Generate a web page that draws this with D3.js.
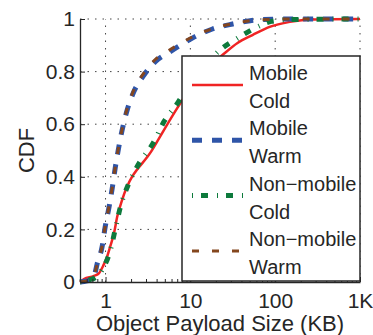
<!DOCTYPE html>
<html>
<head>
<meta charset="utf-8">
<script src="https://cdn.jsdelivr.net/npm/d3@7"></script>
<style>
  html, body { margin: 0; padding: 0; background: #fff; }
  svg { display: block; font-family: "Liberation Sans", Arial, sans-serif; }
</style>
</head>
<body>
<div id="chart"></div>
<script>
// CDF of object payload size (KB)
const mobileColdKB  = [0.5, 0.557, 0.732, 0.839, 0.936, 1.04, 1.13, 1.26, 1.37, 1.57, 3.55, 7.03, 9.75, 14.7, 23.9, 36, 54, 86, 149, 278, 1000];
const mobileColdCDF = [0, 0.011, 0.023, 0.034, 0.061, 0.095, 0.133, 0.186, 0.247, 0.312, 0.502, 0.662, 0.732, 0.802, 0.863, 0.909, 0.939, 0.970, 0.989, 0.998, 1];

const mobileWarmKB  = [0.5, 0.605, 0.693, 0.752, 0.795, 0.91, 0.99, 1.1, 1.2, 1.3, 1.4, 1.57, 1.8, 2.16, 2.84, 3.86, 5.8, 7.42, 11.2, 18.2, 31.5, 67.5, 149, 1000];
const mobileWarmCDF = [0, 0.004, 0.011, 0.034, 0.068, 0.133, 0.209, 0.285, 0.357, 0.433, 0.495, 0.578, 0.654, 0.724, 0.787, 0.838, 0.876, 0.898, 0.932, 0.962, 0.981, 0.998, 1, 1];

const nonMobileColdKB  = [0.5, 0.639, 0.773, 0.91, 1.142, 1.31, 1.5, 1.88, 2.48, 3.72, 4.89, 7.03, 9.75, 14.7, 23.1, 34.8, 62.7, 90.3, 149, 1000];
const nonMobileColdCDF = [0, 0.008, 0.019, 0.046, 0.122, 0.204, 0.286, 0.375, 0.451, 0.533, 0.610, 0.679, 0.753, 0.821, 0.886, 0.924, 0.971, 0.991, 0.998, 1];

const nonMobileWarmKB  = [0.5, 0.6, 0.69, 0.75, 0.8, 0.91, 0.99, 1.1, 1.2, 1.3, 1.4, 1.57, 1.8, 2.16, 2.84, 3.86, 5.8, 7.42, 11.2, 18.2, 31.5, 67.5, 149, 1000];
const nonMobileWarmCDF = [0, 0.005, 0.013, 0.036, 0.07, 0.136, 0.212, 0.288, 0.36, 0.436, 0.498, 0.582, 0.66, 0.731, 0.795, 0.846, 0.884, 0.905, 0.936, 0.963, 0.982, 0.997, 1, 1];

const seriesNames = [["Mobile", "Cold"], ["Mobile", "Warm"], ["Non\u2212mobile", "Cold"], ["Non\u2212mobile", "Warm"]];
const xTickValues = [1, 10, 100, 1000];
const xTickLabels = ["1", "10", "100", "1K"];
const yTickValues = [0, 0.2, 0.4, 0.6, 0.8, 1];

const width = 373, height = 335;
const margin = { top: 19, right: 13, bottom: 53, left: 80 };

const svg = d3.select('#chart').append('svg')
  .attr('width', width)
  .attr('height', height);

const x = d3.scaleLog()
  .domain([0.5, 1000])
  .range([margin.left, width - margin.right]);
const y = d3.scaleLinear()
  .domain([0, 1])
  .range([height - margin.bottom, margin.top]);

const ink = '#262626';

// dotted grid
const grid = svg.append('g')
  .attr('stroke', '#444')
  .attr('stroke-width', 1)
  .attr('stroke-dasharray', '1.5,6');
grid.selectAll('line.gx')
  .data(xTickValues)
  .join('line')
  .attr('x1', d => x(d)).attr('x2', d => x(d))
  .attr('y1', y(0)).attr('y2', y(1));
grid.selectAll('line.gy')
  .data(yTickValues.slice(1))
  .join('line')
  .attr('x1', x(0.5)).attr('x2', x(1000))
  .attr('y1', d => y(d)).attr('y2', d => y(d));

// curves
const series = [
  { kb: mobileColdKB, cdf: mobileColdCDF, color: '#f02424', w: 2.5, dash: null },
  { kb: mobileWarmKB, cdf: mobileWarmCDF, color: '#2f55a8', w: 5, dash: '10,10' },
  { kb: nonMobileColdKB, cdf: nonMobileColdCDF, color: '#0d7a3c', w: 5, dash: '1,8,7,9' },
  { kb: nonMobileWarmKB, cdf: nonMobileWarmCDF, color: '#84461e', w: 3, dash: '7,13' }
];

const line = d3.line()
  .x(d => x(d[0]))
  .y(d => y(d[1]))
  .curve(d3.curveMonotoneX);

svg.append('g')
  .selectAll('path')
  .data(series)
  .join('path')
  .attr('d', s => line(d3.zip(s.kb, s.cdf)))
  .attr('fill', 'none')
  .attr('stroke', s => s.color)
  .attr('stroke-width', s => s.w)
  .attr('stroke-dasharray', s => s.dash);

// axes
const xAxis = g => g.attr('transform', `translate(0,${y(0)})`)
  .call(d3.axisBottom(x).tickValues(xTickValues)
    .tickFormat((d, i) => xTickLabels[i])
    .tickSize(-5).tickSizeOuter(0).tickPadding(11))
  .call(g => g.select('.domain').attr('stroke', ink).attr('stroke-width', 1.3))
  .call(g => g.selectAll('.tick line').attr('stroke', ink))
  .call(g => g.selectAll('.tick text').attr('fill', ink).attr('font-size', 21)
    .attr('font-family', '"Liberation Sans", Arial, sans-serif'));

const minorX = [];
[0.1, 1, 10, 100].forEach(b => d3.range(2, 10).forEach(k => {
  const v = b * k;
  if (v >= 0.5 && v <= 1000) minorX.push(v);
}));

const xMinor = g => g.attr('transform', `translate(0,${y(0)})`)
  .call(d3.axisBottom(x).tickValues(minorX).tickFormat('')
    .tickSize(-3).tickSizeOuter(0))
  .call(g => g.select('.domain').remove())
  .call(g => g.selectAll('.tick line').attr('stroke', ink));

const yAxis = g => g.attr('transform', `translate(${x(0.5)},0)`)
  .call(d3.axisLeft(y).tickValues(yTickValues)
    .tickFormat(d3.format('~g'))
    .tickSize(-5).tickSizeOuter(0).tickPadding(5))
  .call(g => g.select('.domain').attr('stroke', ink).attr('stroke-width', 1.3))
  .call(g => g.selectAll('.tick line').attr('stroke', ink))
  .call(g => g.selectAll('.tick text').attr('fill', ink).attr('font-size', 21)
    .attr('font-family', '"Liberation Sans", Arial, sans-serif'));

svg.append('g').call(xMinor);
svg.append('g').call(xAxis);
svg.append('g').call(yAxis);

// axis titles
svg.append('text')
  .attr('x', (x(0.5) + x(1000)) / 2)
  .attr('y', 331)
  .attr('text-anchor', 'middle')
  .attr('font-size', 22)
  .attr('fill', ink)
  .text('Object Payload Size (KB)');

svg.append('text')
  .attr('transform', `translate(34,${(y(0) + y(1)) / 2}) rotate(-90)`)
  .attr('text-anchor', 'middle')
  .attr('font-size', 22)
  .attr('fill', ink)
  .text('CDF');

// legend
const legend = svg.append('g').attr('transform', 'translate(182,56)');
legend.append('rect')
  .attr('width', 178)
  .attr('height', 225)
  .attr('fill', '#fff')
  .attr('stroke', ink)
  .attr('stroke-width', 1.5);

const entry = legend.selectAll('g.entry')
  .data(series)
  .join('g')
  .attr('transform', (d, i) => `translate(0,${i * 55.3})`);

entry.append('line')
  .attr('x1', 10).attr('x2', 61)
  .attr('y1', 29).attr('y2', 29)
  .attr('stroke', s => s.color)
  .attr('stroke-width', s => s.w)
  .attr('stroke-dasharray', s => s.dash);

entry.append('text')
  .attr('x', 67)
  .attr('y', 24)
  .attr('font-size', 20)
  .attr('fill', ink)
  .text((d, i) => seriesNames[i][0]);

entry.append('text')
  .attr('x', 67)
  .attr('y', 52)
  .attr('font-size', 20)
  .attr('fill', ink)
  .text((d, i) => seriesNames[i][1]);
</script>
</body>
</html>
